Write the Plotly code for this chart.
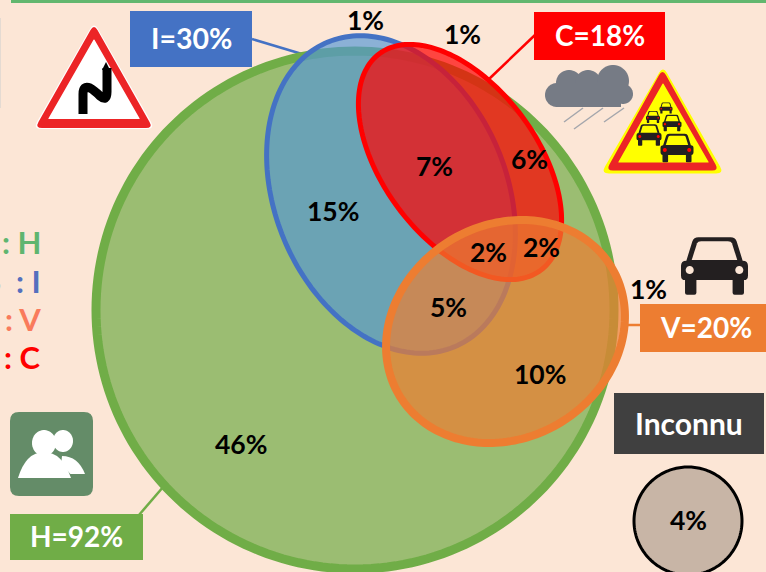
import math
import plotly.graph_objects as go

# ---- chart content ----
set_names = ["H", "I", "C", "V"]
set_values = [92, 30, 18, 20]
set_labels = [f"{n}={v}%" for n, v in zip(set_names, set_values)]
region_values = [46, 15, 7, 6, 5, 10, 2, 2, 1, 1, 1]
unknown_label = "Inconnu"
unknown_value = 4
legend_lines = [": H", "S  : I", ": V", ": C"]

W, H = 766, 572
BG = "#FCE6D6"
GREEN, BLUE, RED, ORANGE = "#70AD47", "#4472C4", "#FF0000", "#ED7D31"
shapes, annos = [], []


def add(path, fill="rgba(0,0,0,0)", line=None, lw=0):
    shapes.append(dict(type="path", path=path, fillcolor=fill, layer="above",
                       line=dict(color=line or "rgba(0,0,0,0)", width=lw)))


def ellipse(cx, cy, a, b, deg, n=200):
    t = math.radians(deg)
    pts = []
    for i in range(n):
        u = 2 * math.pi * i / n
        x, y = a * math.cos(u), b * math.sin(u)
        pts.append((cx + x * math.cos(t) - y * math.sin(t), cy + x * math.sin(t) + y * math.cos(t)))
    return "M" + " L".join(f"{x:.2f},{y:.2f}" for x, y in pts) + " Z"


def rect(x0, y0, x1, y1):
    return f"M{x0},{y0} L{x1},{y0} L{x1},{y1} L{x0},{y1} Z"


def rpoly(pts, r):
    n = len(pts)
    out = []
    for i in range(n):
        p0, p1, p2 = pts[i - 1], pts[i], pts[(i + 1) % n]
        d0 = math.dist(p0, p1)
        d2 = math.dist(p1, p2)
        a = (p1[0] + (p0[0] - p1[0]) * r / d0, p1[1] + (p0[1] - p1[1]) * r / d0)
        b = (p1[0] + (p2[0] - p1[0]) * r / d2, p1[1] + (p2[1] - p1[1]) * r / d2)
        out.append(("M" if i == 0 else "L") + f"{a[0]:.2f},{a[1]:.2f} Q{p1[0]},{p1[1]} {b[0]:.2f},{b[1]:.2f}")
    return " ".join(out) + " Z"


def text(x, y, s, size=26.5, color="#000", font="Lato", anchor="center"):
    annos.append(dict(x=x, y=y, text=f"<b>{s.replace(' ', '&nbsp;')}</b>", showarrow=False,
                      xanchor=anchor, yanchor="middle", xref="x", yref="y",
                      font=dict(family=font, size=size, color=color)))


def car(cx, cy, w, body="#231F20", glass=BG, lamp=BG):
    def X(v): return cx + v * w
    def Y(v): return cy + v * w
    add(f"M{X(-.42)},{Y(-.08)} L{X(-.33)},{Y(-.37)} Q{X(-.31)},{Y(-.43)} {X(-.24)},{Y(-.43)} "
        f"L{X(.24)},{Y(-.43)} Q{X(.31)},{Y(-.43)} {X(.33)},{Y(-.37)} L{X(.42)},{Y(-.08)} "
        f"Q{X(.5)},{Y(-.08)} {X(.5)},{Y(0)} L{X(.5)},{Y(.14)} Q{X(.5)},{Y(.21)} {X(.44)},{Y(.21)} "
        f"L{X(.44)},{Y(.4)} Q{X(.44)},{Y(.43)} {X(.41)},{Y(.43)} L{X(.3)},{Y(.43)} Q{X(.27)},{Y(.43)} {X(.27)},{Y(.4)} "
        f"L{X(.27)},{Y(.21)} L{X(-.27)},{Y(.21)} L{X(-.27)},{Y(.4)} Q{X(-.27)},{Y(.43)} {X(-.3)},{Y(.43)} "
        f"L{X(-.41)},{Y(.43)} Q{X(-.44)},{Y(.43)} {X(-.44)},{Y(.4)} L{X(-.44)},{Y(.21)} "
        f"Q{X(-.5)},{Y(.21)} {X(-.5)},{Y(.14)} L{X(-.5)},{Y(0)} Q{X(-.5)},{Y(-.08)} {X(-.42)},{Y(-.08)} Z", fill=body)
    add(f"M{X(-.34)},{Y(-.09)} L{X(-.26)},{Y(-.34)} Q{X(-.25)},{Y(-.37)} {X(-.2)},{Y(-.37)} L{X(.2)},{Y(-.37)} "
        f"Q{X(.25)},{Y(-.37)} {X(.26)},{Y(-.34)} L{X(.34)},{Y(-.09)} Z", fill=glass)
    add(ellipse(X(-.37), Y(.06), .06 * w, .06 * w, 0, 30), fill=lamp)
    add(ellipse(X(.37), Y(.06), .06 * w, .06 * w, 0, 30), fill=lamp)


# background details
add(rect(11, 0, W, 3), fill="#62B76F")
add(rect(0, 18, 1, 108), fill="#E4DAD2")

# connector lines
add("M252,39 L302,54", line=BLUE, lw=2.5)
add("M535,35 L488,80", line=RED, lw=2.5)
add("M139,515 L170,479", line=GREEN, lw=2.5)
add("M626,325 L642,325", line=ORANGE, lw=2.5)

# Venn sets
add(ellipse(355, 310, 259, 259, 0), fill="#9BBD72", line=GREEN, lw=9)
add(ellipse(391, 194.5, 165, 116, 67.5), fill="rgba(84,150,213,0.67)", line=BLUE, lw=5)
add(ellipse(460, 162, 135, 77, 53.3), fill="rgba(255,0,0,0.70)", line=RED, lw=5)
add(ellipse(505.5, 331.5, 124, 106.4, -31.5), fill="rgba(237,125,49,0.70)", line=ORANGE, lw=8)

# label boxes
add(rect(130, 11, 252, 67), fill=BLUE)
add(rect(534, 12, 665, 60), fill=RED)
add(rect(10, 514, 143, 560), fill=GREEN)
add(rect(640, 304, 766, 352), fill=ORANGE)
add(rect(614, 393, 764, 454), fill="#404040")
add(ellipse(688, 521, 54, 54, 0), fill="#C8B5A6", line="#000000", lw=3)

# winding-road sign
add(rpoly([(94, 22), (33, 129), (155, 129)], 8), fill="#FFFFFF")
add(rpoly([(94, 24), (35, 128), (153, 128)], 7), fill="#EC2426")
add(rpoly([(94, 39), (48, 119), (140, 119)], 1), fill="#FFFFFF")
add("M83,114 L83,94 Q83,85 90,88 Q94,90 100,96 Q107,102 107,92 L107,68", line="#000000", lw=9)
add("M102,70 L106,62 L110,70 Z", fill="#000000")

# cloud and rain
for c in [(569, 83, 13), (588, 83, 13), (613, 81, 16), (557, 95, 12), (623, 94, 10)]:
    add(ellipse(c[0], c[1], c[2], c[2], 0, 50), fill="#767B85")
add(rect(557, 83, 621, 107), fill="#767B85")
add("M583,108 L564,122", line="#A4A6AC", lw=1.5)
add("M603,108 L574,129", line="#A4A6AC", lw=1.5)
add("M624,108 L604,122", line="#A4A6AC", lw=1.5)

# traffic-jam sign
add(rpoly([(663, 66), (601, 173.5), (724, 173.5)], 8), fill="#FFFF00")
add(rpoly([(662.5, 69), (606, 170.5), (719, 170.5)], 7), fill="#EC2426")
add(rpoly([(663, 83), (618, 162.5), (709, 162.5)], 1), fill="#FFFF00")
for cx, cy, w in [(677, 148, 33), (649, 135, 25), (672, 123, 19), (653, 117, 14), (666, 108, 13)]:
    car(cx, cy, w, glass="#FFFF00", lamp="#FF0000")

# car icon
car(714.5, 266, 67)

# people icon
add(rpoly([(10, 412), (93, 412), (93, 496), (10, 496)], 9), fill="#648C68")
add(ellipse(63, 441, 10, 11, 0, 50), fill="#FFFFFF")
add("M62,456 Q78,456 85,474 L60,474 Z", fill="#FFFFFF")
add("M56,458 L74,478 L50,478 Z", fill="#648C68")
add(ellipse(44, 443, 12, 13, 0, 50), fill="#FFFFFF")
add("M18,478 Q26,452 44,452 Q62,452 71,478 Z", fill="#FFFFFF")

# texts
text(191, 38, set_labels[1], 28.5, "#FFFFFF")
text(76, 536, set_labels[0], 28, "#FFFFFF")
text(600, 35, set_labels[2], 28, "#FFFFFF")
text(706, 327, set_labels[3], 28, "#FFFFFF")
text(689, 423, unknown_label, 30, "#FFFFFF")
text(688, 520, f"{unknown_value}%")

region_xy = [(241, 444), (333, 211), (434, 166), (529, 159), (448, 307), (540, 374),
             (488, 252), (541, 247), (365, 20), (462, 34), (648, 289)]
for v, (x, y) in zip(region_values, region_xy):
    text(x, y, f"{v}%")

legend_colors = ["#5FB56F", "#5470BE", "#F97B5C", "#FF0000"]
for s, y, c in zip(legend_lines, [242, 281, 319, 357], legend_colors):
    text(43, y, s, 31, c, "Lato", "right")

fig = go.Figure()
fig.update_layout(
    width=W, height=H, margin=dict(l=0, r=0, t=0, b=0),
    paper_bgcolor=BG, plot_bgcolor=BG, showlegend=False,
    xaxis=dict(range=[0, W], visible=False, fixedrange=True),
    yaxis=dict(range=[H, 0], visible=False, fixedrange=True),
    shapes=shapes, annotations=annos,
)
fig.write_html("out.html", config=dict(displayModeBar=False),
               post_script="document.body.style.margin='0';document.body.style.background='#FCE6D6';")
